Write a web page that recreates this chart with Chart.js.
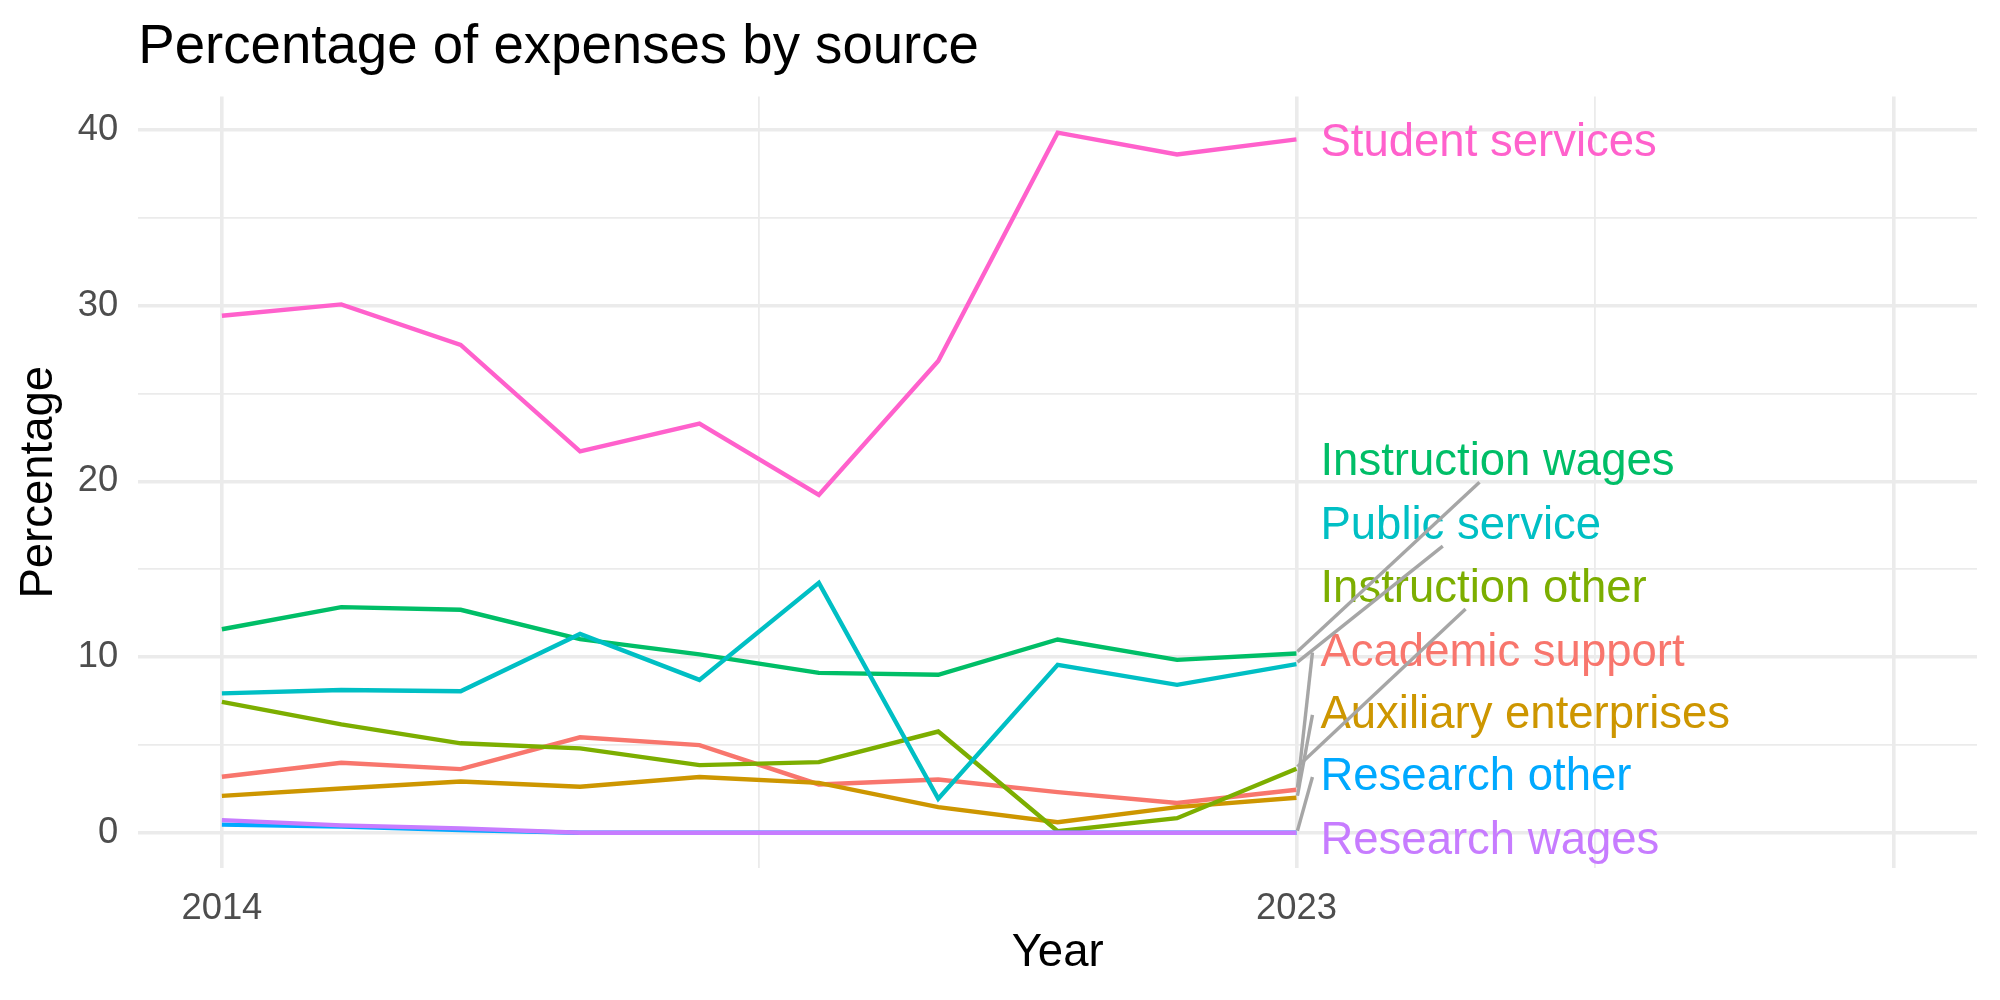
<!DOCTYPE html>
<html>
<head>
<meta charset="utf-8">
<script src="https://cdn.jsdelivr.net/npm/chart.js@4.4.1/dist/chart.umd.min.js"></script>
<style>
  html, body { margin: 0; padding: 0; background: #fff; }
  #wrap { width: 2000px; height: 1000px; }
</style>
</head>
<body>
<div id="wrap"><canvas id="chart" width="2000" height="1000"></canvas></div>
<script>
// Years on the x axis
const years = [2014, 2015, 2016, 2017, 2018, 2019, 2020, 2021, 2022, 2023];

// Series, in the order ggplot draws them
const seriesNames = [
  "Academic support", "Auxiliary enterprises", "Instruction other", "Instruction wages",
  "Public service", "Research other", "Research wages", "Student services"
];
const seriesColors = ["#F8766D", "#CD9600", "#7CAE00", "#00BE67", "#00BFC4", "#00A9FF", "#C77CFF", "#FF61CC"];

const academicSupport      = [3.19, 3.98, 3.62, 5.43, 4.99, 2.75, 3.03, 2.31, 1.69, 2.45];
const auxiliaryEnterprises = [2.10, 2.52, 2.92, 2.62, 3.17, 2.84, 1.46, 0.60, 1.46, 1.99];
const instructionOther     = [7.45, 6.17, 5.09, 4.80, 3.85, 4.02, 5.76, 0.09, 0.83, 3.64];
const instructionWages     = [11.58, 12.84, 12.69, 11.02, 10.15, 9.10, 8.99, 11.00, 9.84, 10.20];
const publicService        = [7.93, 8.12, 8.05, 11.31, 8.70, 14.22, 1.93, 9.56, 8.42, 9.60];
const researchOther        = [0.46, 0.35, 0.15, 0, 0, 0, 0, 0, 0, 0];
const researchWages        = [0.72, 0.42, 0.25, 0, 0, 0, 0, 0, 0, 0];
const studentServices      = [29.42, 30.07, 27.76, 21.70, 23.29, 19.23, 26.85, 39.84, 38.60, 39.46];

const seriesValues = [academicSupport, auxiliaryEnterprises, instructionOther, instructionWages,
  publicService, researchOther, researchWages, studentServices];

// repelled label centres (data units) and where the leader line meets the label
const labelY   = [10.43, 6.88, 14.04, 21.26, 17.62, 3.34, -0.27, 39.46];
const leaderTo = ["left", "left", "bottom", "bottom", "bottom", "left", "none", "none"];

// axes
const xGridValues  = [2014, 2018.5, 2023, 2025.5, 2028];
const xMajor       = [2014, 2023, 2028];
const xTickLabels  = [2014, 2023];
const yGridValues  = [0, 5, 10, 15, 20, 25, 30, 35, 40];
const yTickLabels  = [0, 10, 20, 30, 40];

const FONT = "'Liberation Sans', Arial, Helvetica, sans-serif";
const GRID = "#EBEBEB";
const BASE = 45.5;

const repelLabels = {
  id: "repelLabels",
  afterDatasetsDraw(chart) {
    const { ctx, scales: { x, y } } = chart;
    const last = years.length - 1;
    const x0 = x.getPixelForValue(years[last]);
    const textLeft = x0 + 24;
    ctx.save();
    ctx.font = `${BASE}px ${FONT}`;
    ctx.textAlign = "left";
    ctx.textBaseline = "alphabetic";
    seriesNames.forEach((name, i) => {
      const cy = y.getPixelForValue(labelY[i]);
      ctx.fillStyle = seriesColors[i];
      ctx.fillText(name, textLeft, cy + 0.358 * BASE);
    });
    // leader segments
    ctx.strokeStyle = "#A6A6A6";
    ctx.lineWidth = 3.4;
    ctx.lineCap = "butt";
    seriesNames.forEach((name, i) => {
      if (leaderTo[i] === "none") return;
      const py = y.getPixelForValue(seriesValues[i][last]);
      const cy = y.getPixelForValue(labelY[i]);
      const w = ctx.measureText(name).width;
      let ex, ey;
      if (leaderTo[i] === "bottom") { ex = textLeft + w / 2 - 18; ey = cy + 23; }
      else { ex = textLeft - 8; ey = cy + 3; }
      ctx.beginPath();
      ctx.moveTo(x0 + 1, py - 2);
      ctx.lineTo(ex, ey);
      ctx.stroke();
    });
    ctx.restore();
  },
  afterDraw(chart) {
    const { ctx, chartArea } = chart;
    ctx.save();
    ctx.font = `${BASE * 1.2}px ${FONT}`;
    ctx.fillStyle = "#000";
    ctx.textAlign = "left";
    ctx.textBaseline = "alphabetic";
    ctx.fillText("Percentage of expenses by source", chartArea.left, 62.7);
    ctx.restore();
  }
};

const ctx = document.getElementById("chart").getContext("2d");
new Chart(ctx, {
  type: "line",
  data: {
    datasets: seriesNames.map((name, i) => ({
      label: name,
      data: years.map((yr, j) => ({ x: yr, y: seriesValues[i][j] })),
      borderColor: seriesColors[i],
      borderWidth: 4.4,
      pointRadius: 0,
      tension: 0,
      fill: false,
      order: seriesNames.length - 1 - i
    }))
  },
  options: {
    responsive: false,
    animation: false,
    events: [],
    layout: { padding: { top: 96.6, right: 23, bottom: 0, left: 0 } },
    plugins: { legend: { display: false }, tooltip: { enabled: false }, title: { display: false } },
    scales: {
      x: {
        type: "linear",
        min: 2013.3,
        max: 2028.7,
        afterBuildTicks: s => { s.ticks = xGridValues.map(v => ({ value: v })); },
        afterFit: s => { s.height = 132.2; },
        grid: {
          color: GRID,
          lineWidth: c => (c.tick && xMajor.includes(c.tick.value)) ? 3.6 : 1.8,
          drawTicks: false
        },
        border: { display: false },
        ticks: {
          autoSkip: false,
          maxRotation: 0,
          padding: 19,
          color: "#4D4D4D",
          font: { family: FONT, size: BASE * 0.8 },
          callback: v => xTickLabels.includes(v) ? String(v) : ""
        },
        title: {
          display: true,
          text: "Year",
          color: "#000",
          font: { family: FONT, size: BASE },
          padding: { top: 0, bottom: 19 }
        }
      },
      y: {
        type: "linear",
        min: -1.995,
        max: 41.895,
        afterBuildTicks: s => { s.ticks = yGridValues.map(v => ({ value: v })); },
        afterFit: s => { s.width = 138.3; },
        grid: {
          color: GRID,
          lineWidth: c => (c.tick && yTickLabels.includes(c.tick.value)) ? 3.6 : 1.8,
          drawTicks: false
        },
        border: { display: false },
        ticks: {
          padding: 20,
          color: "#4D4D4D",
          font: { family: FONT, size: BASE * 0.8 },
          callback: v => yTickLabels.includes(v) ? String(v) : ""
        },
        title: {
          display: true,
          text: "Percentage",
          color: "#000",
          font: { family: FONT, size: BASE },
          padding: { top: 11.7, bottom: 0 }
        }
      }
    }
  },
  plugins: [repelLabels]
});
</script>
</body>
</html>
